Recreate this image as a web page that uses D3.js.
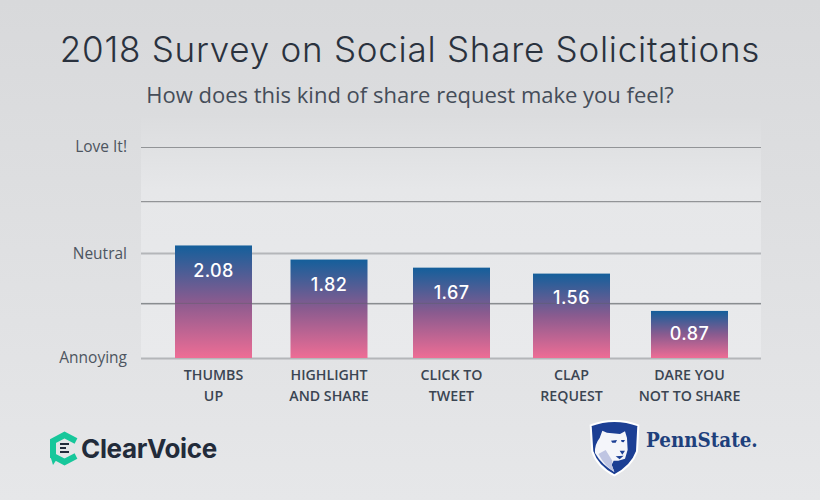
<!DOCTYPE html>
<html>
<head>
<meta charset="utf-8">
<script src="https://cdn.jsdelivr.net/npm/d3@7"></script>
<style>
  html, body { margin: 0; padding: 0; background: #e3e4e6; }
  svg { display: block; }
</style>
</head>
<body>
<div id="chart"></div>
<script>
// Chart data
const categories = ["THUMBS UP", "HIGHLIGHT AND SHARE", "CLICK TO TWEET", "CLAP REQUEST", "DARE YOU NOT TO SHARE"];
const categoryLines = [["THUMBS", "UP"], ["HIGHLIGHT", "AND SHARE"], ["CLICK TO", "TWEET"], ["CLAP", "REQUEST"], ["DARE YOU", "NOT TO SHARE"]];
const scores = [2.08, 1.82, 1.67, 1.56, 0.87];
// gridlines in the picture are not evenly spaced, so these are read off it
const gridValues = [0, 1.01, 1.94, 2.90, 3.90];
const gridLabels = ["Annoying", "", "Neutral", "", "Love It!"];

const width = 820, height = 500;
const plot = { left: 141, right: 761, top: 118, bottom: 358 };
const barWidth = 77;

const svg = d3.select("#chart").append("svg")
  .attr("width", width)
  .attr("height", height);

const defs = svg.append("defs");

function vGradient(id, stops) {
  const g = defs.append("linearGradient").attr("id", id)
    .attr("x1", 0).attr("y1", 0).attr("x2", 0).attr("y2", 1);
  stops.forEach(s => g.append("stop").attr("offset", s[0]).attr("stop-color", s[1]));
}
vGradient("bg", [[0, "#d8d9db"], [1, "#e6e7e9"]]);
vGradient("plotBg", [[0, "#dcdddf"], [0.3, "#e6e7e9"], [1, "#e9eaec"]]);
vGradient("barFill", [[0, "#145f9b"], [0.5, "#8a5b8f"], [1, "#ee6d95"]]);

// Background
svg.append("rect").attr("width", width).attr("height", height).attr("fill", "url(#bg)");
svg.append("rect")
  .attr("x", plot.left).attr("y", plot.top)
  .attr("width", plot.right - plot.left).attr("height", plot.bottom - plot.top)
  .attr("fill", "url(#plotBg)");

// Title
svg.append("text")
  .attr("x", 410).attr("y", 62)
  .attr("text-anchor", "middle")
  .attr("font-family", "Inter")
  .attr("font-weight", 300)
  .attr("font-size", 35)
  .attr("letter-spacing", 0.75)
  .attr("fill", "#2a323e")
  .text("2018 Survey on Social Share Solicitations");

svg.append("text")
  .attr("x", 410).attr("y", 103)
  .attr("text-anchor", "middle")
  .attr("font-family", "Open Sans")
  .attr("font-size", 22)
  .attr("fill", "#454d59")
  .text("How does this kind of share request make you feel?");

// Scales - bar spacing in the picture is slightly uneven
const x = d3.scaleOrdinal()
  .domain(categories)
  .range([213.5, 329, 451.5, 571.5, 689.5]);

const y = d3.scaleLinear()
  .domain([0, 3.9])
  .range([plot.bottom, 147]);

// Grid and left labels
const yAxis = svg.append("g")
  .attr("transform", `translate(${plot.left},0)`)
  .call(d3.axisLeft(y)
    .tickValues(gridValues)
    .tickSize(-(plot.right - plot.left))
    .tickPadding(14)
    .tickFormat((d, i) => gridLabels[i]));
yAxis.select(".domain").remove();
yAxis.selectAll("line")
  .attr("stroke", (d, i) => (i === 0 || i === 2) ? "#b4b6b9" : "#929497")
  .attr("stroke-width", (d, i) => (i === 0 || i === 2) ? 2 : 1.2);
yAxis.selectAll("text")
  .attr("font-family", "Open Sans")
  .attr("font-size", 15.5)
  .attr("fill", "#4d5560");

// Bars
svg.selectAll(".bar")
  .data(scores)
  .enter()
  .append("rect")
  .attr("class", "bar")
  .attr("x", (d, i) => x(categories[i]) - barWidth / 2)
  .attr("y", d => y(d))
  .attr("width", barWidth)
  .attr("height", d => y(0) - y(d))
  .attr("fill", "url(#barFill)");

// the lower gridline shows through the bars
svg.append("line")
  .attr("x1", plot.left).attr("x2", plot.right)
  .attr("y1", y(gridValues[1])).attr("y2", y(gridValues[1]))
  .attr("stroke", "#5c5f66").attr("stroke-opacity", 0.45).attr("stroke-width", 1);

// Value labels
svg.selectAll(".value")
  .data(scores)
  .enter()
  .append("text")
  .attr("class", "value")
  .attr("x", (d, i) => x(categories[i]))
  .attr("y", d => y(d) + 27 + d * 2.4)
  .attr("text-anchor", "middle")
  .attr("font-family", "Inter")
  .attr("font-weight", 500)
  .attr("font-size", 18)
  .attr("letter-spacing", 0.4)
  .attr("fill", "#ffffff")
  .text(d => d.toFixed(2));

// Category labels
categories.forEach((c, i) => {
  const label = svg.append("text")
    .attr("text-anchor", "middle")
    .attr("font-family", "Open Sans")
    .attr("font-weight", 600)
    .attr("font-size", 14.2)
    .attr("fill", "#3b4552");
  categoryLines[i].forEach((line, k) => {
    label.append("tspan")
      .attr("x", x(c))
      .attr("y", plot.bottom + 22 + k * 21)
      .text(line);
  });
});

// ClearVoice logo
const cv = svg.append("g");
cv.append("path")
  .attr("d", "M76,441 L64.5,435 L53,441 L53,456 L64.5,462 L76,456")
  .attr("fill", "none").attr("stroke", "#17c79b").attr("stroke-width", 6);
cv.append("path").attr("d", "M50,455 L57,459 L53,465 Z").attr("fill", "#17c79b");
[[60, 444, 9], [60, 448, 6], [60, 452, 9]].forEach(r => {
  cv.append("rect").attr("x", r[0]).attr("y", r[1] - 1).attr("width", r[2]).attr("height", 2).attr("fill", "#222b3a");
});
cv.append("text")
  .attr("x", 81).attr("y", 458)
  .attr("font-family", "Inter").attr("font-weight", 700)
  .attr("font-size", 26).attr("letter-spacing", -0.35)
  .attr("fill", "#222b3a")
  .text("ClearVoice");

// Penn State logo, shield traced at 3x then scaled down
const ps = svg.append("g");
const shield = ps.append("g").attr("transform", "translate(585,418) scale(0.3333)");
shield.append("path")
  .attr("d", "M17,22 Q88,-4 160,22 L156,100 Q140,145 88,172 Q36,145 22,100 Z")
  .attr("fill", "#1c3f94").attr("stroke", "#ffffff").attr("stroke-width", 6);
shield.append("path")
  .attr("d", "M44,60 L52,38 L66,44 L105,48 L120,40 L126,60 L128,95 L120,122 L100,128 L86,128 L80,140 L88,162 Q50,140 30,105 Q28,80 44,60 Z")
  .attr("fill", "#f4f5fa");
shield.append("path")
  .attr("d", "M40,108 L62,96 L82,128 L80,140 L88,162 Q60,145 40,108 Z")
  .attr("fill", "#bfc5e2");
shield.append("path")
  .attr("d", "M78,68 L96,66 L92,74 L82,74 Z M108,66 L120,66 L116,73 L110,72 Z M104,98 L120,98 L112,110 Z M92,115 L116,113 L104,124 Z")
  .attr("fill", "#1c3f94");
ps.append("text")
  .attr("x", 646).attr("y", 447)
  .attr("font-family", "DejaVu Serif Condensed, DejaVu Serif").attr("font-weight", 700)
  .attr("font-size", 20.4)
  .attr("fill", "#1e407c")
  .text("PennState.");
</script>
</body>
</html>
